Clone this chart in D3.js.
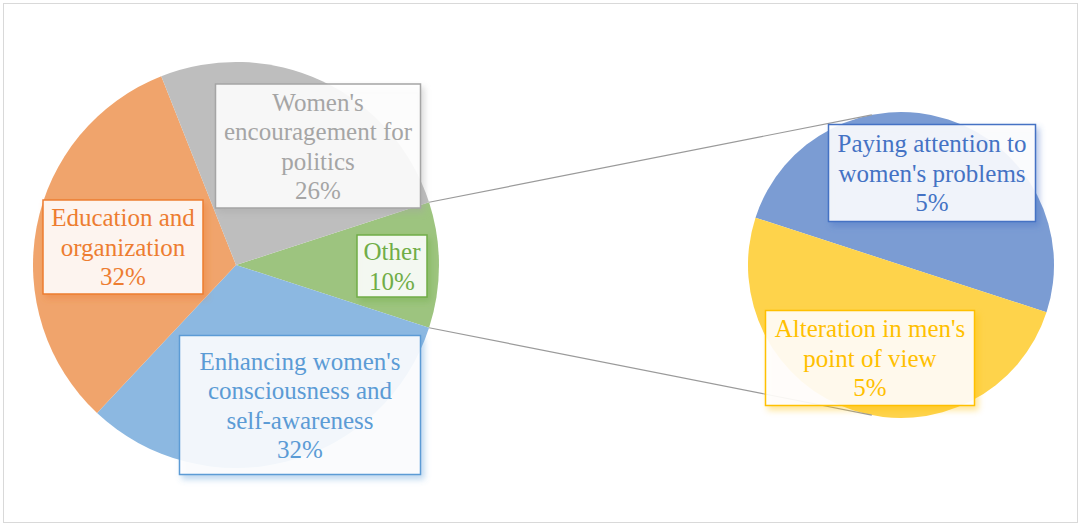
<html>
<head>
<script src="https://d3js.org/d3.v7.min.js"></script>
<style>
body { margin: 0; background: #fff; }
svg { display: block; }
</style>
</head>
<body>
<svg></svg>
<script>

// data: the main pie, "Other" is split out into the second pie
var mainCategories = ["Other", "Enhancing women's consciousness and self-awareness", "Education and organization", "Women's encouragement for politics"];
var mainValues = [10, 32, 32, 26];
var subCategories = ["Paying attention to women's problems", "Alteration in men's point of view"];
var subValues = [5, 5];

var width = 1081;
var height = 526;
var serif = "'Liberation Serif', 'Times New Roman', Tinos, 'DejaVu Serif', serif";

var svg = d3.select("svg").attr("width", width).attr("height", height);

// colours: slice fill, label text/border
var mainFill = ["#9dc47f", "#8cb8e1", "#f0a46c", "#bebebe"];
var mainInk = ["#70ad47", "#5b9bd5", "#ed7d31", "#a5a5a5"];
var subFill = ["#7b9cd3", "#fed34b"];
var subInk = ["#4472c4", "#ffc000"];

// label layout (offset of box centre from its pie centre, box size, wrapped lines)
var mainLabels = [
	{ dx: 156, dy: 1, w: 70, h: 62, lines: ["Other"] },
	{ dx: 64, dy: 140, w: 241, h: 139, lines: ["Enhancing women's", "consciousness and", "self-awareness"] },
	{ dx: -113, dy: -18, w: 160, h: 94, lines: ["Education and", "organization"] },
	{ dx: 82, dy: -119, w: 205, h: 124, lines: ["Women's", "encouragement for", "politics"] }
];
var subLabels = [
	{ dx: 31, dy: -92, w: 207, h: 97, lines: ["Paying attention to", "women's problems"] },
	{ dx: -31, dy: 93, w: 209, h: 95, lines: ["Alteration in men's", "point of view"] }
];

var main = { cx: 236, cy: 265, r: 203 };
var sub = { cx: 901, cy: 265, r: 153 };
var lineH = 29.5;

// chart area border
svg.append("rect")
.attr("x", 3.5).attr("y", 3.5)
.attr("width", width - 7).attr("height", height - 7)
.attr("fill", "#fff")
.attr("stroke", "#d9d9d9");

var defs = svg.append("defs");

// "Other" is centred on the right side of the main pie
var total = d3.sum(mainValues);
var mainStart = Math.PI / 2 - Math.PI * mainValues[0] / total;
var mainPie = d3.pie().sort(null).startAngle(mainStart).endAngle(mainStart + 2 * Math.PI);
var subStart = -Math.PI * 0.4;
var subPie = d3.pie().sort(null).startAngle(subStart).endAngle(subStart + 2 * Math.PI);

var mainArcs = mainPie(mainValues);
var subArcs = subPie(subValues);

var mainArc = d3.arc().innerRadius(0).outerRadius(main.r);
var subArc = d3.arc().innerRadius(0).outerRadius(sub.r);

svg.append("g")
.attr("transform", "translate(" + main.cx + "," + main.cy + ")")
.selectAll("path").data(mainArcs).enter().append("path")
.attr("d", mainArc)
.attr("fill", function (d, i) { return mainFill[i]; });

svg.append("g")
.attr("transform", "translate(" + sub.cx + "," + sub.cy + ")")
.selectAll("path").data(subArcs).enter().append("path")
.attr("d", subArc)
.attr("fill", function (d, i) { return subFill[i]; });

// connector lines from the edges of "Other" to the second pie
var joinAngle = 11 * Math.PI / 180;
var o = mainArcs[0];
var connectors = [
	[o.startAngle, -joinAngle],
	[o.endAngle, Math.PI + joinAngle]
];
svg.append("g").selectAll("line").data(connectors).enter().append("line")
.attr("x1", function (d) { return main.cx + main.r * Math.sin(d[0]); })
.attr("y1", function (d) { return main.cy - main.r * Math.cos(d[0]); })
.attr("x2", function (d) { return sub.cx + sub.r * Math.sin(d[1]); })
.attr("y2", function (d) { return sub.cy - sub.r * Math.cos(d[1]); })
.attr("stroke", "#9a9a9a")
.attr("stroke-width", 1.2);

function drawLabels(pie, values, labels, ink, key) {
	labels.forEach(function (lab, i) {
		var id = "shadow-" + key + i;
		defs.append("filter").attr("id", id)
		.attr("x", "-20%").attr("y", "-20%").attr("width", "140%").attr("height", "140%")
		.append("feDropShadow")
		.attr("dx", 3).attr("dy", 4).attr("stdDeviation", 3)
		.attr("flood-color", ink[i]).attr("flood-opacity", 0.45);

		var cx = pie.cx + lab.dx;
		var cy = pie.cy + lab.dy;
		var g = svg.append("g");
		g.append("rect")
		.attr("x", cx - lab.w / 2).attr("y", cy - lab.h / 2)
		.attr("width", lab.w).attr("height", lab.h)
		.attr("fill", "#fff").attr("fill-opacity", 0.88)
		.attr("stroke", ink[i]).attr("stroke-width", 1.5)
		.attr("filter", "url(#" + id + ")");

		// percentages are shares of the whole chart
		var lines = lab.lines.concat([Math.round(values[i] / total * 100) + "%"]);
		var top = cy - (lines.length - 1) * lineH / 2;
		g.selectAll("text").data(lines).enter().append("text")
		.attr("x", cx)
		.attr("y", function (d, j) { return top + j * lineH; })
		.attr("dy", "0.35em")
		.attr("text-anchor", "middle")
		.attr("font-family", serif)
		.attr("font-size", 25)
		.attr("fill", ink[i])
		.text(function (d) { return d; });
	});
}

drawLabels(main, mainValues, mainLabels, mainInk, "main");
drawLabels(sub, subValues, subLabels, subInk, "sub");

</script>
</body>
</html>
